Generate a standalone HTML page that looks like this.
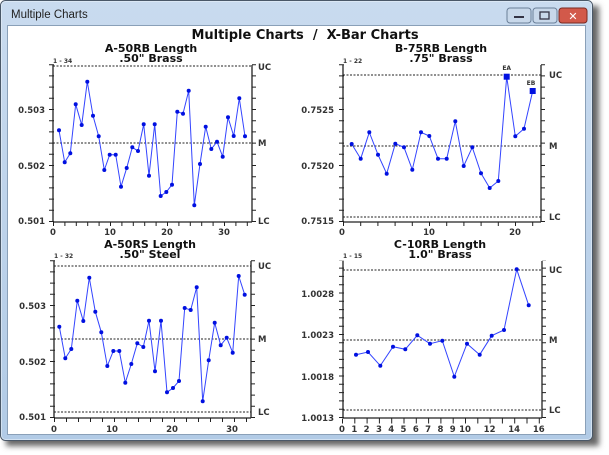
<!DOCTYPE html>
<html><head><meta charset="utf-8"><style>
html,body{margin:0;padding:0;width:609px;height:455px;overflow:hidden;background:#fff}
svg{display:block}
text{font-family:"DejaVu Sans","Liberation Sans",sans-serif;font-weight:bold;fill:#333}
.t{font-size:13px;fill:#111}
.st{font-size:11px;fill:#111}
.l{font-size:8.5px}
.s{font-size:6px}
.ax{stroke:#222;stroke-width:1.3;fill:none}
.dl{stroke:#222;stroke-width:1;stroke-dasharray:2 1.5}
.ser{stroke:#3344ff;stroke-width:1;fill:none}
.pt{fill:#0010e0}
</style></head><body>
<svg width="609" height="455" viewBox="0 0 609 455">
<defs>
<linearGradient id="fr" x1="0" y1="0" x2="0" y2="1"><stop offset="0" stop-color="#c9dbef"/><stop offset="1" stop-color="#b2cbe6"/></linearGradient>
<filter id="sh" x="-5%" y="-5%" width="115%" height="115%"><feGaussianBlur stdDeviation="3"/></filter>
</defs>
<rect x="6" y="6" width="593" height="440" fill="#666" filter="url(#sh)"/>
<rect x="0.5" y="0.5" width="592" height="440" rx="5" fill="url(#fr)" stroke="#4a5868"/>
<rect x="1.5" y="1.5" width="590" height="438" rx="4" fill="none" stroke="#e8f0f8" stroke-opacity="0.6"/>
<text x="11" y="18" style="font-family:'Liberation Sans',sans-serif;font-weight:normal;font-size:11.5px;fill:#222">Multiple Charts</text>
<rect x="507" y="8" width="24" height="15" rx="3" fill="#c8d8ea" stroke="#6a7f98"/>
<rect x="514" y="16" width="10" height="2" fill="#334"/>
<rect x="533" y="8" width="24" height="15" rx="3" fill="#c8d8ea" stroke="#6a7f98"/>
<rect x="540" y="12" width="9" height="7" fill="none" stroke="#334" stroke-width="1.3"/>
<rect x="559" y="8" width="28" height="15" rx="3" fill="#d2594a" stroke="#7a2a22"/>
<text x="573" y="20" text-anchor="middle" style="font-size:11px;fill:#fff">✕</text>
<rect x="7.5" y="25.5" width="578" height="409" fill="#fff" stroke="#8aa0b8"/>

<text class="t" x="305" y="39" text-anchor="middle">Multiple Charts&#160;&#160;/&#160;&#160;X-Bar Charts</text>

<!-- Chart 1 -->
<text class="st" x="151" y="52" text-anchor="middle">A-50RB Length</text>
<text class="st" x="151" y="62" text-anchor="middle">.50" Brass</text>
<text class="s" x="53" y="63">1 - 34</text>
<line class="dl" x1="53" y1="66" x2="252" y2="66"/>
<line class="dl" x1="53" y1="143" x2="252" y2="143"/>
<line class="ax" x1="53" y1="65" x2="53" y2="222"/>
<line class="ax" x1="252" y1="65" x2="252" y2="222"/>
<line class="ax" x1="53" y1="222" x2="252" y2="222"/>
<line x1="51.5" y1="222" x2="51.5" y2="64" stroke="#222" stroke-width="5" stroke-dasharray="1 10.2"/>
<line x1="254" y1="222" x2="254" y2="64" stroke="#222" stroke-width="4" stroke-dasharray="1 10.2"/>
<line x1="53" y1="224" x2="252" y2="224" stroke="#222" stroke-width="4" stroke-dasharray="1 10.4"/>
<text class="l" x="45" y="113" text-anchor="end">0.503</text>
<text class="l" x="45" y="169" text-anchor="end">0.502</text>
<text class="l" x="45" y="224" text-anchor="end">0.501</text>
<text class="l" x="258" y="70">UC</text><text class="l" x="258" y="146">M</text><text class="l" x="258" y="224">LC</text>
<text class="l" x="53" y="235" text-anchor="middle">0</text><text class="l" x="110" y="235" text-anchor="middle">10</text><text class="l" x="167" y="235" text-anchor="middle">20</text><text class="l" x="224" y="235" text-anchor="middle">30</text>
<polyline class="ser" points="59,130.3 64.7,162.3 70.3,153.3 75.7,104.3 81.7,125 87.3,81.7 93,115.7 98.7,136.3 104.3,170 109.7,154.7 115.7,154.7 121,186.7 126.7,168 132.3,147.3 138,151 143.7,124.3 149,175.7 154.7,124.3 160.7,196 166.3,192 172,184.7 177.3,111.7 183,113.7 188.7,90.7 194.3,205.3 200,164 205.7,126.7 211.3,149 217,141.7 222.7,156.7 228,117.3 233.7,136 239.3,98.3 245,136.3"/>
<g class="pt">
<circle cx="59" cy="130.3" r="2"/><circle cx="64.7" cy="162.3" r="2"/><circle cx="70.3" cy="153.3" r="2"/><circle cx="75.7" cy="104.3" r="2"/><circle cx="81.7" cy="125" r="2"/><circle cx="87.3" cy="81.7" r="2"/><circle cx="93" cy="115.7" r="2"/><circle cx="98.7" cy="136.3" r="2"/><circle cx="104.3" cy="170" r="2"/><circle cx="109.7" cy="154.7" r="2"/><circle cx="115.7" cy="154.7" r="2"/><circle cx="121" cy="186.7" r="2"/><circle cx="126.7" cy="168" r="2"/><circle cx="132.3" cy="147.3" r="2"/><circle cx="138" cy="151" r="2"/><circle cx="143.7" cy="124.3" r="2"/><circle cx="149" cy="175.7" r="2"/><circle cx="154.7" cy="124.3" r="2"/><circle cx="160.7" cy="196" r="2"/><circle cx="166.3" cy="192" r="2"/><circle cx="172" cy="184.7" r="2"/><circle cx="177.3" cy="111.7" r="2"/><circle cx="183" cy="113.7" r="2"/><circle cx="188.7" cy="90.7" r="2"/><circle cx="194.3" cy="205.3" r="2"/><circle cx="200" cy="164" r="2"/><circle cx="205.7" cy="126.7" r="2"/><circle cx="211.3" cy="149" r="2"/><circle cx="217" cy="141.7" r="2"/><circle cx="222.7" cy="156.7" r="2"/><circle cx="228" cy="117.3" r="2"/><circle cx="233.7" cy="136" r="2"/><circle cx="239.3" cy="98.3" r="2"/><circle cx="245" cy="136.3" r="2"/>
</g>

<!-- Chart 2 -->
<text class="st" x="441" y="52" text-anchor="middle">B-75RB Length</text>
<text class="st" x="441" y="62" text-anchor="middle">.75" Brass</text>
<text class="s" x="343" y="63">1 - 22</text>
<line class="dl" x1="343" y1="75" x2="541" y2="75"/>
<line class="dl" x1="343" y1="146" x2="541" y2="146"/>
<line class="dl" x1="343" y1="217" x2="541" y2="217"/>
<line class="ax" x1="343" y1="65" x2="343" y2="222"/>
<line class="ax" x1="541" y1="65" x2="541" y2="222"/>
<line class="ax" x1="343" y1="222" x2="541" y2="222"/>
<line x1="341.5" y1="222" x2="341.5" y2="64" stroke="#222" stroke-width="5" stroke-dasharray="1 10.2"/>
<line x1="543" y1="222" x2="543" y2="64" stroke="#222" stroke-width="4" stroke-dasharray="1 10.2"/>
<line x1="343" y1="224" x2="541" y2="224" stroke="#222" stroke-width="4" stroke-dasharray="1 16.2"/>
<text class="l" x="334" y="113" text-anchor="end">0.7525</text>
<text class="l" x="334" y="169" text-anchor="end">0.7520</text>
<text class="l" x="334" y="224" text-anchor="end">0.7515</text>
<text class="l" x="549" y="78">UC</text><text class="l" x="549" y="149">M</text><text class="l" x="549" y="220">LC</text>
<text class="l" x="342" y="235" text-anchor="middle">0</text><text class="l" x="429" y="235" text-anchor="middle">10</text><text class="l" x="515" y="235" text-anchor="middle">20</text>
<text class="s" x="506.7" y="70" text-anchor="middle">EA</text><text class="s" x="531" y="85" text-anchor="middle">EB</text>
<polyline class="ser" points="351.7,144 360.7,158.7 369.3,132.3 378,154.7 386.7,173.7 395.3,143.7 404,147.3 412.3,169.7 421,132.3 429.3,136 438,158.7 446.7,158.7 455.3,121.3 463.7,166 472.3,147.3 481,173.3 489.7,188 498.3,181 506.7,76.7 515.3,136.3 524,128.7 532.7,91"/>
<g class="pt">
<circle cx="351.7" cy="144" r="2"/><circle cx="360.7" cy="158.7" r="2"/><circle cx="369.3" cy="132.3" r="2"/><circle cx="378" cy="154.7" r="2"/><circle cx="386.7" cy="173.7" r="2"/><circle cx="395.3" cy="143.7" r="2"/><circle cx="404" cy="147.3" r="2"/><circle cx="412.3" cy="169.7" r="2"/><circle cx="421" cy="132.3" r="2"/><circle cx="429.3" cy="136" r="2"/><circle cx="438" cy="158.7" r="2"/><circle cx="446.7" cy="158.7" r="2"/><circle cx="455.3" cy="121.3" r="2"/><circle cx="463.7" cy="166" r="2"/><circle cx="472.3" cy="147.3" r="2"/><circle cx="481" cy="173.3" r="2"/><circle cx="489.7" cy="188" r="2"/><circle cx="498.3" cy="181" r="2"/><circle cx="515.3" cy="136.3" r="2"/><circle cx="524" cy="128.7" r="2"/>
<rect x="503.7" y="73.7" width="6" height="6"/><rect x="529.7" y="88" width="6" height="6"/>
</g>

<!-- Chart 3 -->
<text class="st" x="150" y="248" text-anchor="middle">A-50RS Length</text>
<text class="st" x="150" y="258" text-anchor="middle">.50" Steel</text>
<text class="s" x="54" y="258">1 - 32</text>
<line class="dl" x1="54" y1="266" x2="251" y2="266"/>
<line class="dl" x1="54" y1="339" x2="251" y2="339"/>
<line class="dl" x1="54" y1="412" x2="251" y2="412"/>
<line class="ax" x1="54" y1="261" x2="54" y2="418"/>
<line class="ax" x1="251" y1="261" x2="251" y2="418"/>
<line class="ax" x1="54" y1="418" x2="251" y2="418"/>
<line x1="52.5" y1="418" x2="52.5" y2="260" stroke="#222" stroke-width="5" stroke-dasharray="1 10.2"/>
<line x1="253" y1="418" x2="253" y2="260" stroke="#222" stroke-width="4" stroke-dasharray="1 10.2"/>
<line x1="54" y1="420" x2="251" y2="420" stroke="#222" stroke-width="4" stroke-dasharray="1 11"/>
<text class="l" x="46" y="309" text-anchor="end">0.503</text>
<text class="l" x="46" y="365" text-anchor="end">0.502</text>
<text class="l" x="46" y="420" text-anchor="end">0.501</text>
<text class="l" x="258" y="269">UC</text><text class="l" x="258" y="342">M</text><text class="l" x="258" y="415">LC</text>
<text class="l" x="54" y="432" text-anchor="middle">0</text><text class="l" x="112" y="432" text-anchor="middle">10</text><text class="l" x="172" y="432" text-anchor="middle">20</text><text class="l" x="232" y="432" text-anchor="middle">30</text>
<polyline class="ser" points="59.3,326.7 65.3,358.3 71.3,349 77.3,300.7 83.3,321 89.3,277.7 95.3,311.7 101.3,332.3 107.3,366 113.3,351 119.3,351 125.3,382.7 131.3,364 137.3,343.3 143.3,347 149,320.7 155,371.3 161,320.7 167,392.3 173,388 179,381 184.7,308 190.7,310 196.7,287.3 202.7,401.3 208.7,360.3 214.7,322.7 220.7,345.3 226.7,337.7 232.7,352.7 238.7,276 244.7,294.7"/>
<g class="pt">
<circle cx="59.3" cy="326.7" r="2"/><circle cx="65.3" cy="358.3" r="2"/><circle cx="71.3" cy="349" r="2"/><circle cx="77.3" cy="300.7" r="2"/><circle cx="83.3" cy="321" r="2"/><circle cx="89.3" cy="277.7" r="2"/><circle cx="95.3" cy="311.7" r="2"/><circle cx="101.3" cy="332.3" r="2"/><circle cx="107.3" cy="366" r="2"/><circle cx="113.3" cy="351" r="2"/><circle cx="119.3" cy="351" r="2"/><circle cx="125.3" cy="382.7" r="2"/><circle cx="131.3" cy="364" r="2"/><circle cx="137.3" cy="343.3" r="2"/><circle cx="143.3" cy="347" r="2"/><circle cx="149" cy="320.7" r="2"/><circle cx="155" cy="371.3" r="2"/><circle cx="161" cy="320.7" r="2"/><circle cx="167" cy="392.3" r="2"/><circle cx="173" cy="388" r="2"/><circle cx="179" cy="381" r="2"/><circle cx="184.7" cy="308" r="2"/><circle cx="190.7" cy="310" r="2"/><circle cx="196.7" cy="287.3" r="2"/><circle cx="202.7" cy="401.3" r="2"/><circle cx="208.7" cy="360.3" r="2"/><circle cx="214.7" cy="322.7" r="2"/><circle cx="220.7" cy="345.3" r="2"/><circle cx="226.7" cy="337.7" r="2"/><circle cx="232.7" cy="352.7" r="2"/><circle cx="238.7" cy="276" r="2"/><circle cx="244.7" cy="294.7" r="2"/>
</g>

<!-- Chart 4 -->
<text class="st" x="440" y="248" text-anchor="middle">C-10RB Length</text>
<text class="st" x="440" y="258" text-anchor="middle">1.0" Brass</text>
<text class="s" x="343" y="258">1 - 15</text>
<line class="dl" x1="343" y1="270" x2="542" y2="270"/>
<line class="dl" x1="343" y1="340" x2="542" y2="340"/>
<line class="dl" x1="343" y1="410" x2="542" y2="410"/>
<line class="ax" x1="343" y1="261" x2="343" y2="418"/>
<line class="ax" x1="542" y1="261" x2="542" y2="418"/>
<line class="ax" x1="343" y1="418" x2="542" y2="418"/>
<line x1="341.5" y1="418" x2="341.5" y2="260" stroke="#222" stroke-width="5" stroke-dasharray="1 7.3"/>
<line x1="544" y1="418" x2="544" y2="260" stroke="#222" stroke-width="4" stroke-dasharray="1 7.3"/>
<line x1="342" y1="421" x2="542" y2="421" stroke="#222" stroke-width="5" stroke-dasharray="1 11.3"/>
<text class="l" x="334" y="297" text-anchor="end">1.0028</text>
<text class="l" x="334" y="338" text-anchor="end">1.0023</text>
<text class="l" x="334" y="380" text-anchor="end">1.0018</text>
<text class="l" x="334" y="421" text-anchor="end">1.0013</text>
<text class="l" x="549" y="273">UC</text><text class="l" x="549" y="343">M</text><text class="l" x="549" y="413">LC</text>
<g class="l" text-anchor="middle">
<text x="342" y="432">0</text><text x="354.3" y="432">1</text><text x="366.6" y="432">2</text><text x="378.9" y="432">3</text><text x="391.2" y="432">4</text><text x="403.5" y="432">5</text><text x="415.8" y="432">6</text><text x="428.1" y="432">7</text><text x="440.4" y="432">8</text><text x="452.7" y="432">9</text><text x="465" y="432">10</text><text x="489.6" y="432">12</text><text x="514.2" y="432">14</text><text x="538.8" y="432">16</text>
</g>
<polyline class="ser" points="356,354.7 368,352 380.3,365.7 393,346.7 405.3,349.3 417.3,335.3 430,343.7 442.3,340.7 454.3,376.7 467,343.7 479.7,354.7 491.7,335.7 504,330 516.7,269.3 528.7,305.3"/>
<g class="pt">
<circle cx="356" cy="354.7" r="2"/><circle cx="368" cy="352" r="2"/><circle cx="380.3" cy="365.7" r="2"/><circle cx="393" cy="346.7" r="2"/><circle cx="405.3" cy="349.3" r="2"/><circle cx="417.3" cy="335.3" r="2"/><circle cx="430" cy="343.7" r="2"/><circle cx="442.3" cy="340.7" r="2"/><circle cx="454.3" cy="376.7" r="2"/><circle cx="467" cy="343.7" r="2"/><circle cx="479.7" cy="354.7" r="2"/><circle cx="491.7" cy="335.7" r="2"/><circle cx="504" cy="330" r="2"/><circle cx="516.7" cy="269.3" r="2"/><circle cx="528.7" cy="305.3" r="2"/>
</g>
</svg>
</body></html>
